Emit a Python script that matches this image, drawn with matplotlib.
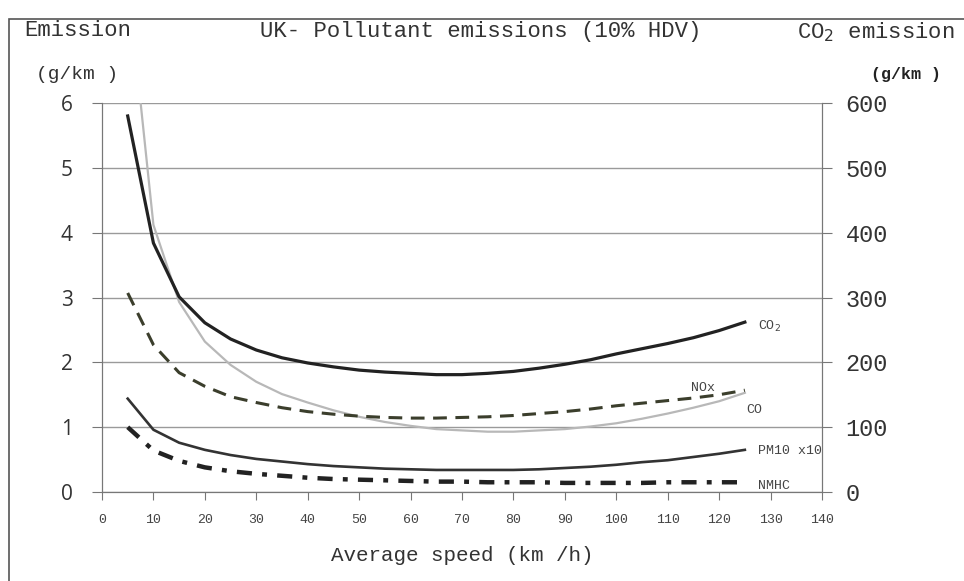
import matplotlib.pyplot as plt
from matplotlib.patches import Rectangle

# speeds (km/h)
speed = [5, 10, 15, 20, 25, 30, 35, 40, 45, 50, 55, 60, 65,
         70, 75, 80, 85, 90, 95, 100, 105, 110, 115, 120, 125]

# emissions in g/km
co2 = [580, 384, 301, 261, 236, 219, 207, 199, 193, 188, 185, 183, 181,
       181, 183, 186, 191, 197, 204, 213, 221, 229, 238, 249, 262]
co = [7.9, 4.12, 2.93, 2.32, 1.96, 1.70, 1.51, 1.38, 1.26, 1.16, 1.08, 1.02, 0.97,
      0.95, 0.93, 0.93, 0.95, 0.97, 1.01, 1.06, 1.13, 1.21, 1.30, 1.40, 1.53]
nox = [3.07, 2.27, 1.84, 1.63, 1.47, 1.38, 1.30, 1.24, 1.20, 1.17, 1.15, 1.14, 1.14,
       1.15, 1.16, 1.18, 1.21, 1.24, 1.28, 1.33, 1.37, 1.41, 1.45, 1.50, 1.57]
pm10x10 = [1.44, 0.96, 0.76, 0.65, 0.57, 0.51, 0.47, 0.43, 0.40, 0.38, 0.36, 0.35, 0.34,
           0.34, 0.34, 0.34, 0.35, 0.37, 0.39, 0.42, 0.46, 0.49, 0.54, 0.59, 0.65]
nmhc = [1.00, 0.64, 0.48, 0.38, 0.32, 0.28, 0.25, 0.22, 0.20, 0.19, 0.18, 0.17, 0.16,
        0.16, 0.15, 0.15, 0.15, 0.14, 0.14, 0.14, 0.14, 0.15, 0.15, 0.15, 0.15]

xticks = list(range(0, 141, 10))
left_ticks = [0, 1, 2, 3, 4, 5, 6]
right_ticks = [0, 100, 200, 300, 400, 500, 600]

mono = 'Liberation Mono'
sans = 'Open Sans'

fig = plt.figure(figsize=(9.64, 5.81), dpi=100)
ax = fig.add_axes([0.1058, 0.1532, 0.7469, 0.6695])
ax2 = ax.twinx()

gc = '#9a9a9a'
ax.set_xlim(0, 140)
ax.set_ylim(0, 6)
ax2.set_ylim(0, 600)
ax.set_yticks(left_ticks)
ax2.set_yticks(right_ticks)
ax.set_xticks(xticks)
ax.grid(axis='y', color=gc, linewidth=1)
ax.set_axisbelow(True)

for a in (ax, ax2):
    a.spines['top'].set_visible(False)
    for s in ('left', 'right', 'bottom'):
        a.spines[s].set_color('#777777')
ax.tick_params(axis='y', length=7, color='#777777', labelsize=15, pad=14)
ax2.tick_params(axis='y', length=7, color='#777777', labelsize=17, pad=10)
ax.tick_params(axis='x', length=6, color='#777777', labelsize=9.5, pad=10)
for lab in ax.get_yticklabels():
    lab.set_family(sans)
    lab.set_color('#333333')
for lab in ax2.get_yticklabels():
    lab.set_family(mono)
    lab.set_color('#333333')
for lab in ax.get_xticklabels():
    lab.set_family(mono)
    lab.set_color('#444444')

ax.plot(speed, co, color='#b8b8b8', lw=1.6)
ax.plot(speed, nox, color='#3b3e2c', lw=2.2, dashes=(4.5, 2.8))
ax.plot(speed, pm10x10, color='#333333', lw=1.9)
ax.plot(speed, nmhc, color='#222222', lw=3.2, dashes=(3.4, 2.3, 1.1, 2.3))
ax2.plot(speed, co2, color='#222222', lw=2.3)

lab_kw = dict(family=mono, fontsize=9.5, color='#444444', va='center')
ax.text(127.5, 2.55, 'CO$_2$', **lab_kw)
ax.text(114.5, 1.6, 'NOx', **lab_kw)
ax.text(125.3, 1.27, 'CO', **lab_kw)
ax.text(127.5, 0.63, 'PM10 x10', **lab_kw)
ax.text(127.5, 0.1, 'NMHC', **lab_kw)

ax.set_xlabel('Average speed (km /h)', family=mono, fontsize=15, color='#333333', labelpad=14)

fig.text(0.025, 0.947, 'Emission', family=mono, fontsize=16, color='#333333', va='center')
fig.text(0.037, 0.871, '(g/km )', family=mono, fontsize=14, color='#333333', va='center')
fig.text(0.499, 0.945, 'UK- Pollutant emissions (10% HDV)', family=mono, fontsize=16,
         color='#333333', ha='center', va='center')
fig.text(0.99, 0.945, 'CO$_2$ emission', family=mono, fontsize=16, color='#333333',
         ha='right', va='center')
fig.text(0.976, 0.871, '(g/km )', family=mono, fontsize=12, color='#222222',
         ha='right', va='center', weight='bold')

fig.patches.append(Rectangle((9 / 964, -0.01), 1.0, 1 - 19 / 581 + 0.01,
                             transform=fig.transFigure, fill=False,
                             edgecolor='#555555', linewidth=1.2))

fig.savefig('out.png', dpi=100)
